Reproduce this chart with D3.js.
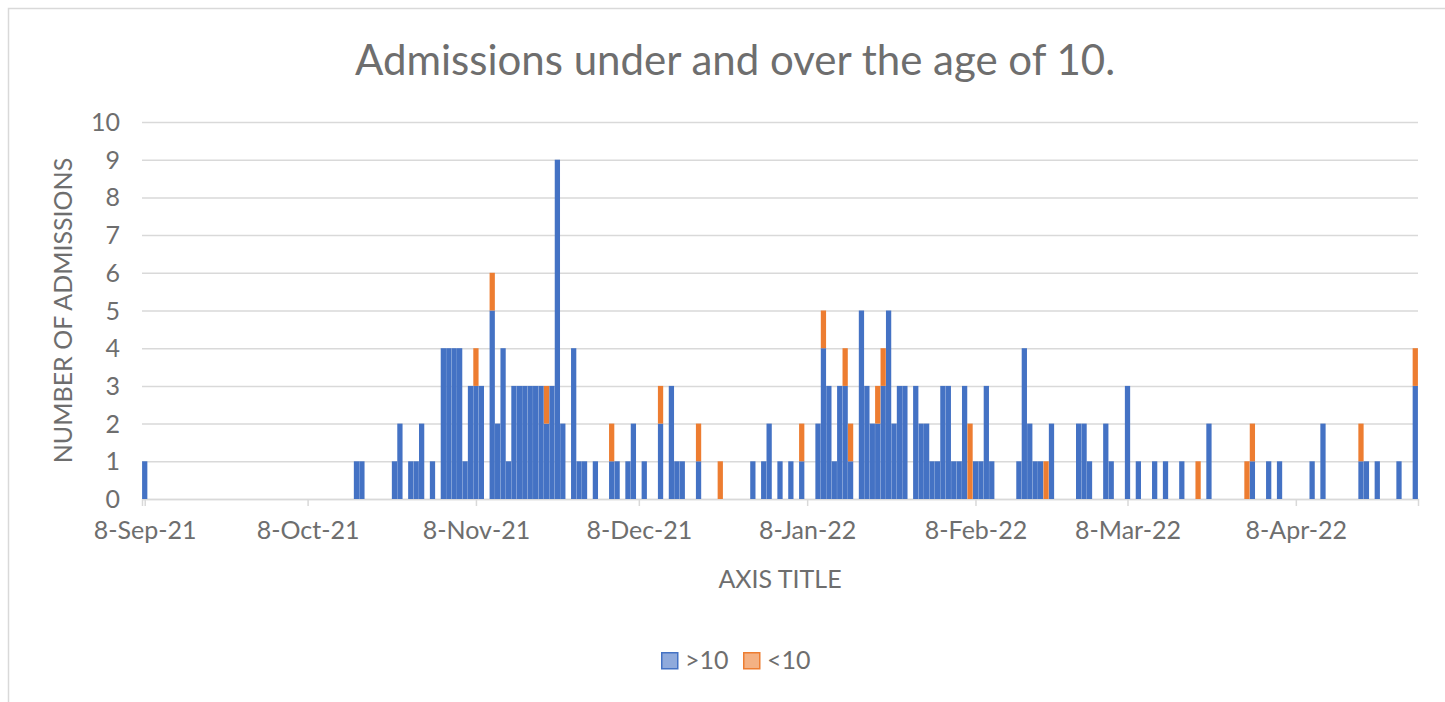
<!DOCTYPE html>
<html>
<head>
<meta charset="utf-8">
<script src="https://cdn.jsdelivr.net/npm/d3@7"></script>
<style>
  body { margin: 0; background: #fff; }
  text { font-family: Lato, "Open Sans", sans-serif; fill: #6e6e6e; }
</style>
</head>
<body>
<div id="chart"></div>
<script>
// admissions per day (only days with admissions are listed)
var dates = ["2021-09-08","2021-10-17","2021-10-18","2021-10-24","2021-10-25","2021-10-27","2021-10-28","2021-10-29","2021-10-31",
  "2021-11-02","2021-11-03","2021-11-04","2021-11-05","2021-11-06","2021-11-07","2021-11-08","2021-11-09","2021-11-11","2021-11-12",
  "2021-11-13","2021-11-14","2021-11-15","2021-11-16","2021-11-17","2021-11-18","2021-11-19","2021-11-20","2021-11-21","2021-11-22",
  "2021-11-23","2021-11-24","2021-11-26","2021-11-27","2021-11-28","2021-11-30","2021-12-03","2021-12-04","2021-12-06","2021-12-07",
  "2021-12-09","2021-12-12","2021-12-14","2021-12-15","2021-12-16","2021-12-19","2021-12-23","2021-12-29","2021-12-31","2022-01-01",
  "2022-01-03","2022-01-05","2022-01-07","2022-01-10","2022-01-11","2022-01-12","2022-01-13","2022-01-14","2022-01-15","2022-01-16",
  "2022-01-18","2022-01-19","2022-01-20","2022-01-21","2022-01-22","2022-01-23","2022-01-24","2022-01-25","2022-01-26","2022-01-28",
  "2022-01-29","2022-01-30","2022-01-31","2022-02-01","2022-02-02","2022-02-03","2022-02-04","2022-02-05","2022-02-06","2022-02-07",
  "2022-02-08","2022-02-09","2022-02-10","2022-02-11","2022-02-16","2022-02-17","2022-02-18","2022-02-19","2022-02-20","2022-02-21",
  "2022-02-22","2022-02-27","2022-02-28","2022-03-01","2022-03-04","2022-03-05","2022-03-08","2022-03-10","2022-03-13","2022-03-15",
  "2022-03-18","2022-03-21","2022-03-23","2022-03-30","2022-03-31","2022-04-03","2022-04-05","2022-04-11","2022-04-13","2022-04-20",
  "2022-04-21","2022-04-23","2022-04-27","2022-04-30"];

var over10 = [1,1,1,1,2,1,1,2,1,
  4,4,4,4,1,3,3,3,5,2,
  4,1,3,3,3,3,3,3,2,3,
  9,2,4,1,1,1,1,1,1,2,
  1,2,3,1,1,1,0,1,1,2,
  1,1,1,2,4,3,1,3,3,1,
  5,3,2,2,3,5,2,3,3,3,
  2,2,1,1,3,3,1,1,3,0,
  1,1,3,1,1,4,2,1,1,0,
  2,2,2,1,2,1,3,1,1,1,
  1,0,2,0,1,1,1,1,2,1,
  1,1,1,3];

var under10 = [0,0,0,0,0,0,0,0,0,
  0,0,0,0,0,0,1,0,1,0,
  0,0,0,0,0,0,0,0,1,0,
  0,0,0,0,0,0,1,0,0,0,
  0,1,0,0,0,1,1,0,0,0,
  0,0,1,0,1,0,0,0,1,1,
  0,0,0,1,1,0,0,0,0,0,
  0,0,0,0,0,0,0,0,0,2,
  0,0,0,0,0,0,0,0,0,1,
  0,0,0,0,0,0,0,0,0,0,
  0,1,0,1,1,0,0,0,0,1,
  0,0,0,1];

var seriesKeys = [">10", "<10"];
var seriesColors = ["#4472C4", "#ED7D31"];
var tickDates = ["2021-09-08","2021-10-08","2021-11-08","2021-12-08","2022-01-08","2022-02-08","2022-03-08","2022-04-08"];
var yTicks = [0,1,2,3,4,5,6,7,8,9,10];
var firstDay = "2021-09-08", lastDay = "2022-04-30";

var W = 1445, H = 702;
var margin = {top: 122, right: 27, bottom: 203, left: 142},
    width = W - margin.left - margin.right,
    height = H - margin.top - margin.bottom;

var parse = d3.utcParse("%Y-%m-%d");
var halfDay = 12 * 3600 * 1000;

var table = dates.map(function(d, i) {
  return {date: parse(d), ">10": over10[i], "<10": under10[i]};
});

var svg = d3.select("#chart")
  .append("svg")
    .attr("width", W)
    .attr("height", H);

// chart frame (top and left edges show)
svg.append("path")
  .attr("d", "M8.5,702V8.5H1445")
  .attr("fill", "none")
  .attr("stroke", "#d9d9d9")
  .attr("stroke-width", 1.5);

// title
svg.append("text")
  .attr("x", 735)
  .attr("y", 75)
  .attr("text-anchor", "middle")
  .style("font-size", "42px")
  .text("Admissions under and over the age of 10.");

var g = svg.append("g")
  .attr("transform", "translate(" + margin.left + "," + margin.top + ")");

var x = d3.scaleUtc()
  .domain([new Date(parse(firstDay).getTime() - halfDay), new Date(parse(lastDay).getTime() + halfDay)])
  .range([0, width]);

var y = d3.scaleLinear()
  .domain([0, 10])
  .range([height, 0]);

// gridlines + y labels
var yAxis = g.append("g")
  .call(d3.axisLeft(y).tickValues(yTicks).tickSize(-width).tickPadding(22).tickFormat(d3.format("d")));
yAxis.select(".domain").remove();
yAxis.selectAll(".tick line").attr("stroke", "#d9d9d9").attr("stroke-width", 1.5);
yAxis.selectAll(".tick text")
  .style("font-size", "25px")
  .style("font-family", "Lato, sans-serif")
  .attr("dy", "0.34em")
  .attr("fill", "#6e6e6e");

// x axis
var xAxis = g.append("g")
  .attr("transform", "translate(0," + height + ")")
  .call(d3.axisBottom(x)
    .tickValues(tickDates.map(parse))
    .tickSize(7)
    .tickPadding(15)
    .tickFormat(d3.utcFormat("%-d-%b-%y")));
xAxis.select(".domain").attr("stroke", "#d9d9d9").attr("stroke-width", 1.5);
xAxis.selectAll(".tick line").attr("stroke", "#d9d9d9").attr("stroke-width", 1.5);
xAxis.selectAll(".tick text")
  .style("font-size", "25px")
  .style("font-family", "Lato, sans-serif")
  .attr("fill", "#6e6e6e");

// stacked bars
var stacked = d3.stack().keys(seriesKeys)(table);
var dayW = x(parse("2021-09-09")) - x(parse("2021-09-08"));
var barW = dayW * 0.97;

g.selectAll(".series")
  .data(stacked)
  .enter()
  .append("g")
    .attr("fill", function(d, i) { return seriesColors[i]; })
  .selectAll("rect")
  .data(function(d) { return d.filter(function(p) { return p[1] > p[0]; }); })
  .enter()
  .append("rect")
    .attr("x", function(d) { return x(d.data.date) - barW / 2; })
    .attr("width", barW)
    .attr("y", function(d) { return y(d[1]); })
    .attr("height", function(d) { return y(d[0]) - y(d[1]); });

// axis titles
svg.append("text")
  .attr("transform", "translate(72," + (margin.top + height / 2) + ")rotate(-90)")
  .attr("text-anchor", "middle")
  .style("font-size", "25px")
  .text("NUMBER OF ADMISSIONS");

svg.append("text")
  .attr("x", margin.left + width / 2)
  .attr("y", 588)
  .attr("text-anchor", "middle")
  .style("font-size", "25px")
  .text("AXIS TITLE");

// legend
var legend = svg.append("g").attr("transform", "translate(661,652)");
var legendX = [0, 82];
seriesKeys.forEach(function(k, i) {
  legend.append("rect")
    .attr("x", legendX[i] + 0.75)
    .attr("y", 0.75)
    .attr("width", 16)
    .attr("height", 16)
    .attr("fill", seriesColors[i])
    .attr("fill-opacity", 0.6)
    .attr("stroke", seriesColors[i])
    .attr("stroke-width", 1.5);
  legend.append("text")
    .attr("x", legendX[i] + 24)
    .attr("y", 17)
    .style("font-size", "25px")
    .text(k);
});
</script>
</body>
</html>
